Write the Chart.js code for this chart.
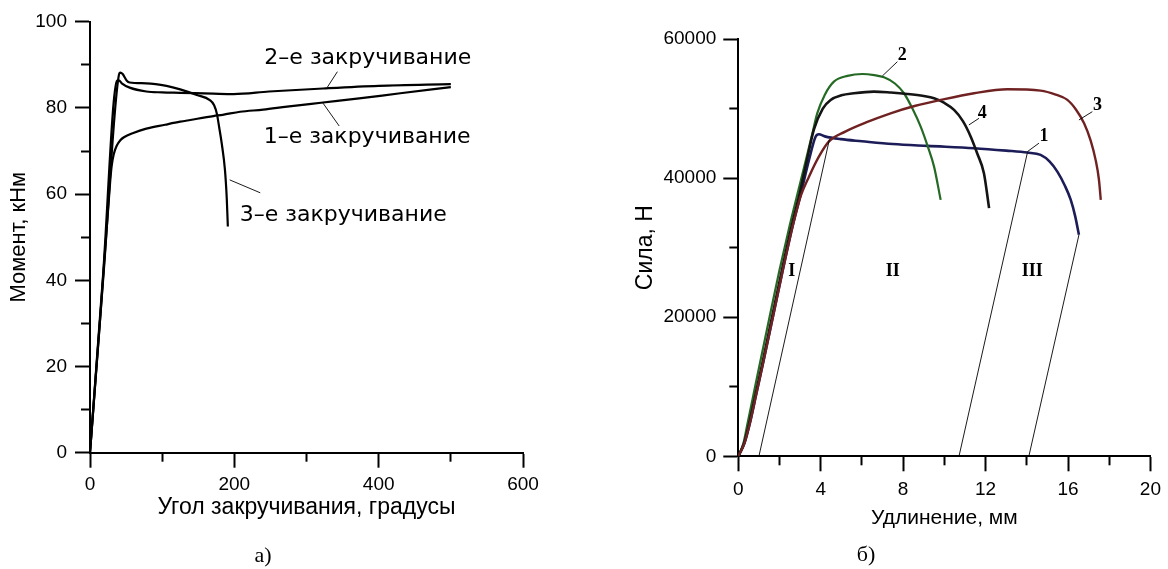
<!DOCTYPE html>
<html lang="ru">
<head>
<meta charset="utf-8">
<title>Закручивание и растяжение</title>
<script src="https://cdn.jsdelivr.net/npm/chart.js@4.4.1/dist/chart.umd.min.js"></script>
<style>
  html, body { margin: 0; padding: 0; background: #fff; }
  .wrap { position: relative; width: 1168px; height: 569px; overflow: hidden; }
  canvas { position: absolute; top: 0; }
  #chartA { left: 0; }
  #chartB { left: 580px; }
  .cap { position: absolute; font: 22px "Liberation Serif", "Times New Roman", serif; color: #000; transform: translate(-50%, -50%); }
</style>
</head>
<body>
<div class="wrap">
  <canvas id="chartA" width="580" height="569"></canvas>
  <canvas id="chartB" width="588" height="569"></canvas>
  <div class="cap" style="left:263px; top:555px">а)</div>
  <div class="cap" style="left:866px; top:554px">б)</div>
</div>
<script>
// ---- а) момент от угла закручивания (угол, градусы; момент, кНм)
const twist1 = [[0,0],[14,31],[28,63],[30,66.5],[33,69.3],[37,71.2],[42,72.5],[47,73.2],[60,74.2],[78,75.2],[104,76.1],[125,76.8],[139,77.2],[171,78.1],[184,78.4],[208,79.1],[240,79.6],[273,80.3],[320,81.2],[373,82.2],[430,83.4],[500,84.8]];
const twist2 = [[0,0],[18,41],[37.5,86.3],[40,86.4],[44,85.7],[55,84.7],[78,83.8],[100,83.6],[125,83.5],[171,83.3],[199,83.2],[248,83.8],[323,84.5],[400,85.1],[500,85.5]];
const twist3 = [[0,0],[19,42],[40,87.6],[42,88.2],[45,87.9],[51,86.3],[55,85.9],[78,85.7],[106,85.1],[125,84.3],[148,83],[166,81.8],[172,80.6],[176,78.5],[179,75.5],[182.5,71.8],[187,65.6],[189.5,59],[191,52.5]];
const twistLeaders = [
  [[342.8,88.4],[328.9,84.8]],
  [[322.9,81.1],[345.3,75.8]],
  [[193.6,63.3],[235.9,60.3]]
];
const twistNotes = [
  { text: '2–е закручивание', x: 385, y: 91.5 },
  { text: '1–е закручивание', x: 384, y: 73.2 },
  { text: '3–е закручивание', x: 351, y: 55.2 }
];
const angleTicks = [0, 200, 400, 600];
const angleMinor = [100, 300, 500];
const momentTicks = [0, 20, 40, 60, 80, 100];
const momentMinor = [10, 30, 50, 70, 90];

// ---- б) сила от удлинения (мм; Н)
const pull1 = [[0,0],[0.3,1900],[0.56,4740],[0.88,9060],[1.2,13370],[1.68,20070],[2.16,26780],[2.63,33010],[3.04,37810],[3.43,42600],[3.75,45950],[3.91,46300],[4.2,46000],[4.97,45600],[6,45300],[7.5,44900],[9.17,44630],[11.44,44300],[13,43950],[14.03,43670],[14.67,43330],[15.1,42400],[15.49,40900],[15.85,38900],[16.13,36900],[16.35,34500],[16.53,31840]];
const pull2 = [[0,0],[0.25,1900],[0.45,4740],[0.75,9060],[1.05,13370],[1.52,20070],[2.0,26780],[2.48,33010],[2.88,37810],[3.28,42600],[3.6,46500],[3.83,49300],[4.2,52000],[4.64,53870],[5.3,54700],[6.02,54970],[6.6,54800],[7.07,54490],[7.6,53600],[8.04,52200],[8.45,50000],[8.85,47400],[9.2,44500],[9.5,41650],[9.82,36870]];
const pull3 = [[0,0],[0.3,1900],[0.56,4740],[0.88,9060],[1.2,13370],[1.68,20070],[2.16,26780],[2.63,33010],[3.04,37500],[3.43,40200],[3.91,43080],[4.39,45240],[5.19,46680],[6.2,48000],[7.39,49320],[8.6,50400],[9.82,51240],[11.44,52200],[13.06,52770],[14.67,52570],[15.4,52000],[15.97,51240],[16.4,49800],[16.78,47890],[17.1,45400],[17.34,42620],[17.5,39800],[17.59,36870]];
const pull4 = [[0,0],[0.28,1900],[0.53,4740],[0.85,9060],[1.17,13370],[1.64,20070],[2.12,26780],[2.58,33010],[2.98,37810],[3.33,42600],[3.67,47000],[4.1,50000],[4.48,51240],[5.0,51900],[5.61,52200],[6.58,52430],[7.4,52300],[8.2,52100],[9.0,51800],[9.5,51480],[10.0,50800],[10.47,49800],[10.9,48200],[11.28,45960],[11.6,43500],[11.92,40700],[12.17,35680]];
const unloadLines = [
  [[1.0,0],[4.42,45550]],
  [[10.71,0],[14.03,43670]],
  [[14.1,0],[16.53,31840]]
];
const pullLeaders = [
  [[6.99,54680],[7.72,56740]],
  [[11.19,47640],[11.68,48600]],
  [[16.53,48360],[17.18,49550]],
  [[14.03,43810],[14.59,45020]]
];
const pullNotes = [
  { text: 'I', x: 2.6, y: 26540 },
  { text: 'II', x: 7.5, y: 26540 },
  { text: 'III', x: 14.27, y: 26540 },
  { text: '2', x: 7.96, y: 57700 },
  { text: '4', x: 11.84, y: 49320 },
  { text: '3', x: 17.43, y: 50520 },
  { text: '1', x: 14.83, y: 46070 }
];
const stretchTicks = [0, 4, 8, 12, 16, 20];
const stretchMinor = [2, 6, 10, 14, 18];
const forceTicks = [0, 20000, 40000, 60000];
const forceMinor = [10000, 30000, 50000];

const SANS = '"Liberation Sans", Arial, sans-serif';

const notesPlugin = {
  id: 'notes',
  afterDatasetsDraw(chart, args, opts) {
    const { ctx, scales: { x, y } } = chart;
    ctx.save();
    ctx.font = opts.font;
    ctx.fillStyle = '#000';
    ctx.textAlign = 'center';
    ctx.textBaseline = 'middle';
    for (const n of opts.items) {
      ctx.fillText(n.text, x.getPixelForValue(n.x), y.getPixelForValue(n.y));
    }
    ctx.restore();
  }
};

function toPts(arr) {
  return arr.map(p => ({ x: p[0], y: p[1] }));
}

function curve(arr, color, width) {
  return {
    data: toPts(arr), borderColor: color, borderWidth: width,
    showLine: true, pointRadius: 0, cubicInterpolationMode: 'monotone', fill: false
  };
}

function thin(arr) {
  return {
    data: toPts(arr), borderColor: '#000', borderWidth: 0.9,
    showLine: true, pointRadius: 0, tension: 0, fill: false
  };
}

function fixTicks(list) {
  return s => { s.ticks = list.map(v => ({ value: v })); };
}

// major axis + a zero-width minor axis carrying the short ticks
function axes(o) {
  const tickFont = { family: SANS, size: 19 };
  return {
    x: {
      type: 'linear', position: 'bottom', weight: 1, min: o.xMin, max: o.xMax,
      afterBuildTicks: fixTicks(o.xTicks),
      afterFit: s => { s.height = o.xHeight; },
      grid: { drawOnChartArea: false, tickLength: 15, tickWidth: 2, tickColor: '#000' },
      border: { display: true, color: '#000', width: 2 },
      ticks: { color: '#000', font: tickFont, padding: o.xPad, maxRotation: 0, callback: v => String(v) },
      title: { display: true, text: o.xTitle, color: '#000', font: { family: SANS, size: o.xTitleSize }, padding: { top: 0, bottom: 0 } }
    },
    xm: {
      type: 'linear', position: 'bottom', weight: 0, min: o.xMin, max: o.xMax,
      afterBuildTicks: fixTicks(o.xMinor),
      afterFit: s => { s.height = 0; },
      grid: { drawOnChartArea: false, tickLength: 9, tickWidth: 2, tickColor: '#000' },
      border: { display: false },
      ticks: { display: false }
    },
    y: {
      type: 'linear', position: 'left', weight: 1, min: o.yMin, max: o.yMax,
      afterBuildTicks: fixTicks(o.yTicks),
      afterFit: s => { s.width = o.yWidth; },
      grid: { drawOnChartArea: false, tickLength: 15, tickWidth: 2, tickColor: '#000' },
      border: { display: true, color: '#000', width: 2 },
      ticks: { color: '#000', font: tickFont, padding: o.yPad, callback: v => String(v) },
      title: { display: true, text: o.yTitle, color: '#000', font: { family: SANS, size: o.yTitleSize }, padding: { top: o.yTitlePad, bottom: 0 } }
    },
    ym: {
      type: 'linear', position: 'left', weight: 0, min: o.yMin, max: o.yMax,
      afterBuildTicks: fixTicks(o.yMinor),
      afterFit: s => { s.width = 0; },
      grid: { drawOnChartArea: false, tickLength: 9, tickWidth: 2, tickColor: '#000' },
      border: { display: false },
      ticks: { display: false }
    }
  };
}

const common = {
  responsive: false,
  animation: false,
  devicePixelRatio: 1,
  plugins: { legend: { display: false }, tooltip: { enabled: false } }
};

new Chart(document.getElementById('chartA'), {
  type: 'scatter',
  data: {
    datasets: [
      curve(twist1, '#000', 2.2),
      curve(twist2, '#000', 2.2),
      curve(twist3, '#000', 2.2),
      ...twistLeaders.map(thin)
    ]
  },
  options: {
    ...common,
    layout: { padding: { left: 0, top: 21.7, right: 57, bottom: 47.2 } },
    scales: axes({
      xMin: 0, xMax: 600, xTicks: angleTicks, xMinor: angleMinor, xHeight: 69.1, xPad: 6,
      xTitle: 'Угол закручивания, градусы', xTitleSize: 23,
      yMin: 0, yMax: 100, yTicks: momentTicks, yMinor: momentMinor, yWidth: 90, yPad: 8,
      yTitle: 'Момент, кНм', yTitleSize: 22, yTitlePad: 5.8
    }),
    plugins: {
      ...common.plugins,
      notes: { font: '22px "DejaVu Sans", sans-serif', items: twistNotes }
    }
  },
  plugins: [notesPlugin]
});

new Chart(document.getElementById('chartB'), {
  type: 'scatter',
  data: {
    datasets: [
      ...unloadLines.map(thin),
      ...pullLeaders.map(thin),
      curve(pull3, '#702222', 2.4),
      curve(pull4, '#141414', 2.6),
      curve(pull2, '#246a24', 2.2),
      curve(pull1, '#1c1c58', 2.6)
    ]
  },
  options: {
    ...common,
    layout: { padding: { left: 0, top: 39, right: 12, bottom: 38.4 } },
    scales: axes({
      xMin: 0, xMax: 20, xTicks: stretchTicks, xMinor: stretchMinor, xHeight: 74.3, xPad: 7,
      xTitle: 'Удлинение, мм', xTitleSize: 21,
      yMin: 0, yMax: 60000, yTicks: forceTicks, yMinor: forceMinor, yWidth: 158.3, yPad: 7,
      yTitle: 'Сила, Н', yTitleSize: 23, yTitlePad: 52.2
    }),
    plugins: {
      ...common.plugins,
      notes: { font: 'bold 18px "Liberation Serif", "Times New Roman", serif', items: pullNotes }
    }
  },
  plugins: [notesPlugin]
});
</script>
</body>
</html>
